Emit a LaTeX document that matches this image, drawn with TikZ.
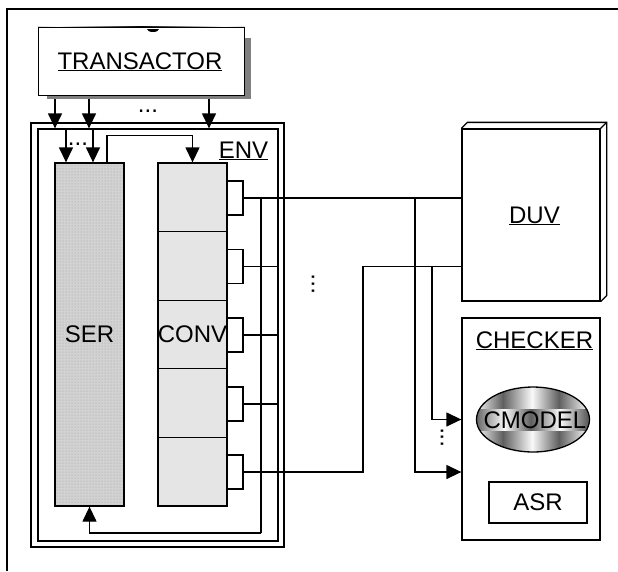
\documentclass[tikz,border=0pt]{standalone}
\usepackage{fontspec}
\setmainfont{Liberation Sans}
\usetikzlibrary{arrows.meta,shapes.geometric,patterns,calc}
\pgfdeclarehorizontalshading{topedge}{10bp}{color(0bp)=(black); color(30bp)=(white); color(50bp)=(black); color(70bp)=(white); color(100bp)=(black)}
\begin{document}
\begin{tikzpicture}[x=1pt,y=-1pt, line width=1.3pt,
  arr/.style={-{Triangle[length=15pt,width=14pt]}},
  box/.style={draw, rectangle, inner sep=0pt, line width=1.3pt},
  lbl/.style={font=\fontsize{24}{28}\selectfont, inner sep=0pt},
  convseg/.style={box, fill=gray!20, minimum width=69pt, minimum height=68.6pt},
  port/.style={box, fill=white, minimum width=16pt, minimum height=34pt},
  dots/.style={font=\fontsize{24}{28}\selectfont, inner sep=0pt}]
\useasboundingbox (0,0) rectangle (618,571);
% outer frame
\coordinate (ftr) at (618,9);
\coordinate (fbl) at (7,571);
\draw (ftr) -| (fbl);
% helper coordinates
\coordinate (a1) at (55,0);
\coordinate (a2) at (89,0);
\coordinate (a3) at (209,0);
\coordinate (i1) at (66,0);
\coordinate (i2) at (93,0);
\coordinate (sx) at (107,0);
\coordinate (bx) at (261,0);
\coordinate (jx) at (363,0);
\coordinate (ax) at (415,0);
\coordinate (ax2) at (432,0);
\coordinate (fb) at (261,533);
% ENV
\node[box, minimum width=253pt, minimum height=424pt] (envout) at (157.5,335) {};
\node[box, minimum width=240pt, minimum height=412pt] (envin) at (158,335) {};
\node[lbl, anchor=base] (envl) at (243.5,158) {\underline{ENV}};
% SER
\node[box, minimum width=69pt, minimum height=343pt, preaction={fill=gray!35}, pattern=dots, pattern color=gray!75] (ser) at (89.5,334.5) {};
\node[lbl] (serl) at (ser.center) {SER};
% CONV
\node[convseg] (c1) at (192.5,197.3) {};
\node[convseg] (c2) at (192.5,265.9) {};
\node[convseg] (c3) at (192.5,334.5) {};
\node[convseg] (c4) at (192.5,403.1) {};
\node[convseg] (c5) at (192.5,471.7) {};
\node[lbl] (convl) at (c3.center) {CONV};
% ports
\node[port] (p1) at (235,198) {};
\node[port] (p2) at (235,266.5) {};
\node[port] (p3) at (235,335) {};
\node[port] (p4) at (235,404) {};
\node[port] (p5) at (235,472) {};
% DUV
\node[box, minimum width=138pt, minimum height=172pt] (duv) at (531,215) {};
\draw (duv.north west) -- ++(6,-6) -| ($(duv.south east)+(6,-6)$) -- (duv.south east);
\draw (duv.north east) -- ++(6,-6);
\node[lbl, anchor=base] (duvl) at (534.5,223) {\underline{DUV}};
% CHECKER
\node[box, minimum width=138pt, minimum height=222pt] (chk) at (531,429) {};
\node[lbl, anchor=base] (chkl) at (534.5,348) {\underline{CHECKER}};
\begin{scope}
  \clip (533,419.5) ellipse [x radius=56.5, y radius=32.5];
  \foreach \i in {0,...,4} {
    \foreach \j in {0,1,2} {
      \pgfmathtruncatemacro{\cpar}{mod(\i+\j,2)}
      \ifnum\cpar=0
        \shade[left color=gray!5, right color=black!65] (476+\i*28,387+\j*22) rectangle ++(28,22);
      \else
        \shade[left color=black!60, right color=gray!5] (476+\i*28,387+\j*22) rectangle ++(28,22);
      \fi
    }
  }
\end{scope}
\node[draw, ellipse, line width=1.3pt, minimum width=113pt, minimum height=65pt, inner sep=0pt] (cm) at (533,419.5) {};
\node[lbl] (cml) at (535,420) {CMODEL};
\node[box, minimum width=98pt, minimum height=41pt] (asr) at (538,502.5) {};
\node[lbl] (asrl) at (asr.center) {ASR};
% wires
\draw (p1.east) -- (p1.east -| duv.west);
\draw (p2.east) -- (p2.east -| envin.east);
\draw (p3.east) -- (p3.east -| envin.east);
\draw (p4.east) -- (p4.east -| envin.east);
\draw (p5.east) -| (p2.east -| jx) -- (p2.east -| duv.west);
\draw (p1.east -| bx) -- (fb);
\draw[arr] (fb) -| (ser.south);
\draw[arr] (p1.east -| ax) |- (p5.east -| chk.west);
\draw[arr] (p2.east -| ax2) |- (cm.center -| chk.west);
\draw[arr] (ser.north -| sx) -- ++(0,-27) -| (c1.north);
\draw[arr] (envin.north -| i1) -- (ser.north -| i1);
\draw[arr] (envin.north -| i2) -- (ser.north -| i2);
\node[dots] (d1) at (78,144) {...};
\node[dots] (d2) at (148,111) {...};
\node[dots, rotate=90] (d3) at (313,284) {...};
\node[dots, rotate=90] (d4) at (442,437.5) {...};
% TRANSACTOR
\node[box, line width=1pt, minimum width=206pt, minimum height=68pt] (trans) at (141,61) {};
\draw[arr] (trans.south -| a1) -- (envin.north -| a1);
\draw[arr] (trans.south -| a2) -- (envin.north -| a2);
\draw[arr] (trans.south -| a3) -- (envin.north -| a3);
\fill[gray] (47,38) rectangle (251,99);
\node[draw, fill=white, rectangle, inner sep=0pt, line width=1pt, minimum width=206pt, minimum height=68pt] (transbox) at (141,61) {};
\shade[shading=topedge] ($(transbox.north west)+(0,-1.5)$) rectangle ($(transbox.north east)+(0,1.5)$);
\fill (147,29) arc[start angle=180, end angle=360, x radius=6, y radius=-3] -- cycle;
\node[lbl, anchor=base] (transl) at (140,69) {\underline{TRANSACTOR}};
\end{tikzpicture}
\end{document}
